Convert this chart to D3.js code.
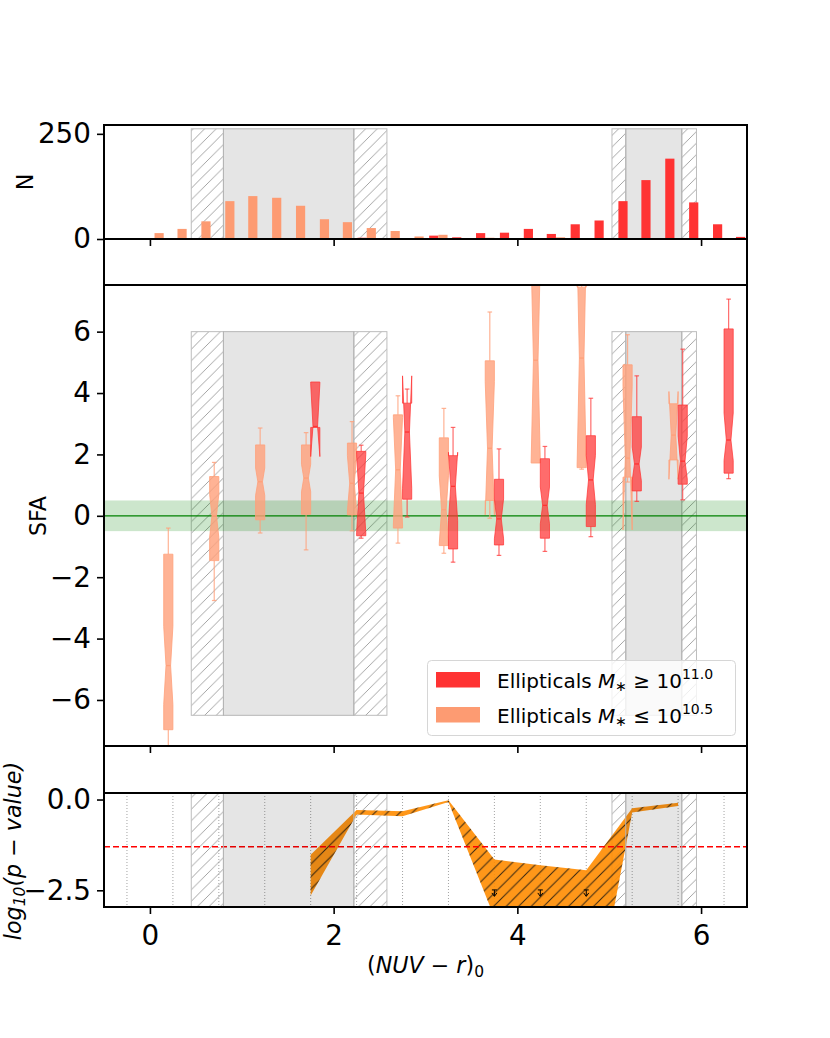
<!DOCTYPE html>
<html>
<head>
<meta charset="utf-8">
<script src="https://cdn.jsdelivr.net/npm/d3@7"></script>
<style>
  body { margin: 0; background: #fff; }
  text { font-family: "DejaVu Sans", sans-serif; }
</style>
</head>
<body>
<div id="chart"></div>
<script>
// ---- data ----
// histogram bins (centre of each pair of bars)
var binCenters = [0.05, 0.30, 0.56, 0.82, 1.07, 1.33, 1.59, 1.85, 2.10, 2.36, 2.62, 2.88, 3.14,
                  3.39, 3.65, 3.91, 4.17, 4.42, 4.68, 4.94, 5.20, 5.45, 5.71, 5.97, 6.23, 6.48];
var nFaint  = [14, 24, 42, 90, 102, 98, 79, 47, 40, 26, 19, 6, 10, 2, 3, 1, 1, 4, 2, 1, 0, 0, 0, 0, 0, 0];
var nBright = [0, 0, 0, 0, 0, 0, 0, 0, 1, 3, 2, 2, 8, 4, 14, 15, 24, 12, 35, 44, 90, 140, 191, 87, 35, 5];

// SFA boxes, one slot per colour bin
var boxPos = [0.25, 0.75, 1.25, 1.75, 2.25, 2.75, 3.25, 3.75, 4.25, 4.75, 5.25, 5.75, 6.25];

var faintQ1   = [-6.97, -1.46, -0.13, 0.05, 0.03, -0.40, -0.97, 0.50, 1.72, 1.57, 1.26, 1.82, null];
var faintMed  = [-4.88, 0.00, 1.11, 1.23, 1.06, 1.50, 0.20, 2.20, 5.07, 5.14, 1.88, 2.63, null];
var faintQ3   = [-1.25, 1.28, 2.31, 2.31, 2.37, 3.29, 2.54, 5.05, 8.60, 7.45, 4.92, 3.65, null];
var faintLo   = [-8.50, -2.76, -0.56, -1.11, -0.49, -0.89, -1.22, -0.08, 1.72, 1.52, 1.10, 1.82, null];
var faintHi   = [-0.40, 1.74, 2.86, 2.71, 3.07, 3.91, 3.50, 6.64, 10.0, 9.50, 5.90, 3.65, null];
var faintCiLo = [-6.15, -0.70, 0.66, 0.78, 0.16, -0.30, -0.90, 0.03, 1.75, 1.60, -0.46, 1.19, null];
var faintCiHi = [-3.60, 0.70, 1.56, 1.68, 1.96, 3.20, 1.30, 4.37, 8.40, 8.70, 4.22, 4.05, null];

var brightQ1   = [null, null, null, 2.88, -0.65, 0.54, -1.08, -0.95, -0.73, -0.35, 0.81, 1.03, 1.39];
var brightMed  = [null, null, null, 2.91, 0.74, 2.73, 0.96, -0.10, 0.34, 1.17, 1.69, 1.78, 2.47];
var brightQ3   = [null, null, null, 4.36, 2.10, 3.67, 1.96, 1.19, 1.86, 2.61, 3.23, 3.61, 6.09];
var brightLo   = [null, null, null, 2.88, -0.73, -0.04, -1.51, -1.29, -1.16, -0.68, 0.47, 0.52, 1.21];
var brightHi   = [null, null, null, 4.36, 2.30, 4.13, 2.88, 2.18, 2.26, 3.83, 4.56, 5.43, 7.06];
var brightCiLo = [null, null, null, 1.93, -0.55, 0.90, -0.15, -0.75, -0.26, 0.37, 1.14, 1.20, 1.80];
var brightCiHi = [null, null, null, 4.30, 2.00, 4.56, 2.07, 0.55, 0.94, 1.97, 2.24, 2.60, 3.35];

// log10(p-value) band
var pX  = [1.75, 2.25, 2.75, 3.25, 3.75, 4.25, 4.75, 5.25, 5.75];
var pHi = [-1.52, -0.29, -0.32, -0.02, -1.65, -1.81, -1.95, -0.24, -0.09];
var pLo = [-2.64, -0.41, -0.46, -0.07, -3.25, -5.00, -7.00, -0.36, -0.18];
var limX = [3.75, 4.25, 4.75];
var limY = [-2.49, -2.49, -2.49];
var gridX = [-0.25, 0.25, 0.75, 1.25, 1.75, 2.25, 2.75, 3.25, 3.75, 4.25, 4.75, 5.25, 5.75, 6.25];
var pCut = Math.log10(0.05);

// colour sequences: [hatch start, shade start, shade end, hatch end]
var zones = [[0.45, 0.80, 2.22, 2.58], [5.03, 5.18, 5.79, 5.95]];

var xTicks = [0, 2, 4, 6];
var nTicks = [0, 250];
var sfaTicks = [-6, -4, -2, 0, 2, 4, 6];
var pTicks = [-2.5, 0.0];

// ---- layout ----
var width = 830, height = 1038;
var left = 104, right = 747;
var colRed = "#ff3333", colSalmon = "#ffa07a", colSalmonBar = "#fd9b72";
var font = "DejaVu Sans";

var svg = d3.select("#chart").append("svg")
    .attr("width", width)
    .attr("height", height);

var x  = d3.scaleLinear().domain([-0.5, 6.5]).range([left, right]);
var yN = d3.scaleLinear().domain([0, 271]).range([239, 125]);
var yS = d3.scaleLinear().domain([-7.5, 7.52]).range([746, 285]);
var yP = d3.scaleLinear().domain([-2.96, 0.18]).range([907, 793]);

var defs = svg.append("defs");

function hatch(id, color, size, sw) {
  defs.append("pattern")
      .attr("id", id)
      .attr("patternUnits", "userSpaceOnUse")
      .attr("width", size).attr("height", size)
    .append("path")
      .attr("d", "M0," + size + "L" + size + ",0M" + (-size / 4) + "," + (size / 4) + "L" + (size / 4) + "," + (-size / 4) +
                 "M" + (size * 3 / 4) + "," + (size * 5 / 4) + "L" + (size * 5 / 4) + "," + (size * 3 / 4))
      .attr("stroke", color)
      .attr("stroke-width", sw);
}
hatch("hatchGray", "#9a9a9a", 11.5, 0.9);
hatch("hatchBlack", "#111", 12.5, 1);

function clip(id, top, bottom) {
  defs.append("clipPath").attr("id", id)
    .append("rect")
      .attr("x", left).attr("y", top)
      .attr("width", right - left).attr("height", bottom - top);
}
clip("clipTop", 125, 239);
clip("clipMid", 285, 746);
clip("clipBot", 793, 907);

// hatched parts of the colour zones
function drawHatch(g, top, bottom) {
  zones.forEach(function(z) {
    [[z[0], z[1]], [z[2], z[3]]].forEach(function(r) {
      g.append("rect")
          .attr("x", x(r[0])).attr("y", top)
          .attr("width", x(r[1]) - x(r[0])).attr("height", bottom - top)
          .attr("fill", "url(#hatchGray)")
          .attr("stroke", "#bdbdbd")
          .attr("stroke-width", 1);
    });
  });
}
// grey middle parts
function drawShade(g, top, bottom) {
  zones.forEach(function(z) {
    g.append("rect")
        .attr("x", x(z[1])).attr("y", top)
        .attr("width", x(z[2]) - x(z[1])).attr("height", bottom - top)
        .attr("fill", "#000")
        .attr("fill-opacity", 0.1)
        .attr("stroke", "#b5b5b5")
        .attr("stroke-width", 1);
  });
}

// ---- top panel: N ----
var gTop = svg.append("g").attr("clip-path", "url(#clipTop)");
drawHatch(gTop, yN(262), yN(0));
drawShade(gTop, yN(262), yN(0));

var barW = 0.1;
gTop.selectAll("rect.bright").data(binCenters).enter()
  .append("rect")
    .attr("class", "bright")
    .attr("x", function(d) { return x(d - barW); })
    .attr("width", x(barW) - x(0))
    .attr("y", function(d, i) { return yN(nBright[i]); })
    .attr("height", function(d, i) { return yN(0) - yN(nBright[i]); })
    .attr("fill", colRed);

gTop.selectAll("rect.faint").data(binCenters).enter()
  .append("rect")
    .attr("class", "faint")
    .attr("x", function(d) { return x(d); })
    .attr("width", x(barW) - x(0))
    .attr("y", function(d, i) { return yN(nFaint[i]); })
    .attr("height", function(d, i) { return yN(0) - yN(nFaint[i]); })
    .attr("fill", colSalmonBar);

// ---- middle panel: SFA ----
var gMid = svg.append("g").attr("clip-path", "url(#clipMid)");
drawHatch(gMid, yS(6), yS(-6.5));
drawShade(gMid, yS(6), yS(-6.5));

gMid.append("rect")
    .attr("x", left).attr("width", right - left)
    .attr("y", yS(0.5)).attr("height", yS(-0.5) - yS(0.5))
    .attr("fill", "green").attr("fill-opacity", 0.2);
gMid.append("line")
    .attr("x1", left).attr("x2", right)
    .attr("y1", yS(0)).attr("y2", yS(0))
    .attr("stroke", "green").attr("stroke-width", 1.2);

var boxW = 0.1;
var line = d3.line();

function drawBoxes(offset, q1, med, q3, lo, hi, cl, ch, color, alpha) {
  var g = gMid.append("g");
  boxPos.forEach(function(p0, i) {
    if (med[i] === null) return;
    var p = p0 + offset;
    var L = p - boxW / 2, R = p + boxW / 2, nL = p - boxW / 4, nR = p + boxW / 4;
    var cw = boxW / 4;

    // whiskers and caps
    [[q3[i], hi[i]], [q1[i], lo[i]]].forEach(function(w) {
      if (w[0] === w[1]) return;
      g.append("line")
          .attr("x1", x(p)).attr("x2", x(p))
          .attr("y1", yS(w[0])).attr("y2", yS(w[1]))
          .attr("stroke", color).attr("stroke-opacity", alpha).attr("stroke-width", 1.2);
      g.append("line")
          .attr("x1", x(p - cw)).attr("x2", x(p + cw))
          .attr("y1", yS(w[1])).attr("y2", yS(w[1]))
          .attr("stroke", color).attr("stroke-opacity", alpha).attr("stroke-width", 1.2);
    });

    // notched box, same vertex order as matplotlib
    var bx = [L, R, R, nR, R, R, L, L, nL, L, L];
    var by = [q1[i], q1[i], cl[i], med[i], ch[i], q3[i], q3[i], ch[i], med[i], cl[i], q1[i]];
    g.append("path")
        .attr("d", line(bx.map(function(v, k) { return [x(v), yS(by[k])]; })) + "Z")
        .attr("fill", color).attr("fill-opacity", alpha)
        .attr("stroke", color).attr("stroke-opacity", alpha).attr("stroke-width", 1);

    g.append("line")
        .attr("x1", x(nL)).attr("x2", x(nR))
        .attr("y1", yS(med[i])).attr("y2", yS(med[i]))
        .attr("stroke", color).attr("stroke-width", 1.3);
  });
}

drawBoxes(-0.05, faintQ1, faintMed, faintQ3, faintLo, faintHi, faintCiLo, faintCiHi, colSalmon, 0.8);
drawBoxes(0.05, brightQ1, brightMed, brightQ3, brightLo, brightHi, brightCiLo, brightCiHi, colRed, 0.72);

// legend
var leg = svg.append("g");
leg.append("rect")
    .attr("x", 427.5).attr("y", 660.5)
    .attr("width", 308).attr("height", 75)
    .attr("rx", 4)
    .attr("fill", "#fff").attr("fill-opacity", 0.8)
    .attr("stroke", "#d6d6d6").attr("stroke-width", 1);

var legItems = [
  { color: colRed, rel: "\u2265", exp: "11.0", y: 672 },
  { color: colSalmonBar, rel: "\u2264", exp: "10.5", y: 707 }
];
legItems.forEach(function(d) {
  leg.append("rect")
      .attr("x", 436).attr("y", d.y)
      .attr("width", 44).attr("height", 15.5)
      .attr("fill", d.color);
  var t = leg.append("text")
      .attr("x", 497).attr("y", d.y + 15.5)
      .attr("font-size", 20)
      .attr("fill", "#000");
  t.append("tspan").text("Ellipticals ");
  t.append("tspan").attr("font-style", "italic").text("M");
  t.append("tspan").attr("font-size", 14).attr("dy", 3).text("\u2217");
  t.append("tspan").attr("dy", -3).text(" " + d.rel + " 10");
  t.append("tspan").attr("font-size", 14).attr("dy", -9).text(d.exp);
});

// ---- bottom panel: p-value ----
var gBot = svg.append("g").attr("clip-path", "url(#clipBot)");
drawHatch(gBot, 793, 907);

gBot.selectAll("line.grid").data(gridX).enter()
  .append("line")
    .attr("class", "grid")
    .attr("x1", function(d) { return x(d); })
    .attr("x2", function(d) { return x(d); })
    .attr("y1", 793).attr("y2", 907)
    .attr("stroke", "#8c8c8c")
    .attr("stroke-width", 0.8)
    .attr("stroke-dasharray", "1,2");

var band = d3.area()
    .x(function(d) { return x(d); })
    .y0(function(d, i) { return yP(pLo[i]); })
    .y1(function(d, i) { return yP(pHi[i]); });

gBot.append("path")
    .attr("d", band(pX))
    .attr("fill", "darkorange")
    .attr("fill-opacity", 0.9);
gBot.append("path")
    .attr("d", band(pX))
    .attr("fill", "url(#hatchBlack)")
    .attr("opacity", 0.85);

gBot.append("line")
    .attr("x1", left).attr("x2", right)
    .attr("y1", yP(pCut)).attr("y2", yP(pCut))
    .attr("stroke", "red")
    .attr("stroke-width", 1.6)
    .attr("stroke-dasharray", "6,3");

// upper-limit markers
limX.forEach(function(lx, i) {
  var cx = x(lx), cy = yP(limY[i]);
  gBot.append("line")
      .attr("x1", cx - 2.5).attr("x2", cx + 2.5)
      .attr("y1", cy).attr("y2", cy)
      .attr("stroke", "#000").attr("stroke-width", 1);
  gBot.append("line")
      .attr("x1", cx).attr("x2", cx)
      .attr("y1", cy).attr("y2", cy + 6)
      .attr("stroke", "#000").attr("stroke-width", 1);
  gBot.append("path")
      .attr("d", "M" + (cx - 2.5) + "," + (cy + 3) + "L" + cx + "," + (cy + 6.5) + "L" + (cx + 2.5) + "," + (cy + 3))
      .attr("fill", "none")
      .attr("stroke", "#000").attr("stroke-width", 1);
});

// the grey zone darkens the band in this panel, so it goes on top
drawShade(gBot, 793, 907);

// ---- frames and axes ----
svg.append("rect")
    .attr("x", left).attr("y", 125)
    .attr("width", right - left).attr("height", 907 - 125)
    .attr("fill", "none")
    .attr("stroke", "#000").attr("stroke-width", 2);

[239, 285, 746, 793].forEach(function(yy) {
  svg.append("line")
      .attr("x1", left).attr("x2", right)
      .attr("y1", yy).attr("y2", yy)
      .attr("stroke", "#000").attr("stroke-width", 2);
});

function yAxis(scale, ticks, fmt) {
  var g = svg.append("g")
      .attr("transform", "translate(" + left + ",0)")
      .call(d3.axisLeft(scale).tickValues(ticks).tickSize(7).tickPadding(6).tickFormat(fmt));
  g.select(".domain").remove();
  g.attr("font-size", 27.8).attr("font-family", font);
  g.selectAll("line").attr("stroke-width", 1.6);
  g.selectAll("text").attr("fill", "#000");
}
yAxis(yN, nTicks, d3.format("d"));
yAxis(yS, sfaTicks, d3.format("d"));
yAxis(yP, pTicks, d3.format(".1f"));

function xAxis(yy, labels) {
  var g = svg.append("g")
      .attr("transform", "translate(0," + yy + ")")
      .call(d3.axisBottom(x).tickValues(xTicks).tickSize(7).tickPadding(11)
            .tickFormat(labels ? d3.format("d") : ""));
  g.select(".domain").remove();
  g.attr("font-size", 27.8).attr("font-family", font);
  g.selectAll("line").attr("stroke-width", 1.6);
  g.selectAll("text").attr("fill", "#000");
}
xAxis(239, false);
xAxis(746, false);
xAxis(907, true);

// axis titles
svg.append("text")
    .attr("transform", "translate(32.7,182) rotate(-90)")
    .attr("text-anchor", "middle")
    .attr("font-size", 22.2)
    .text("N");

svg.append("text")
    .attr("transform", "translate(45.5,516) rotate(-90)")
    .attr("text-anchor", "middle")
    .attr("font-size", 22.2)
    .text("SFA");

var pl = svg.append("text")
    .attr("transform", "translate(21,851) rotate(-90)")
    .attr("text-anchor", "middle")
    .attr("font-size", 22.2)
    .attr("font-style", "italic");
pl.append("tspan").text("log");
pl.append("tspan").attr("font-size", 15.5).attr("dy", 4).text("10");
pl.append("tspan").attr("dy", -4).text("(p \u2212 value)");

var xl = svg.append("text")
    .attr("x", (left + right) / 2)
    .attr("y", 973)
    .attr("text-anchor", "middle")
    .attr("font-size", 22.2);
xl.append("tspan").text("(");
xl.append("tspan").attr("font-style", "italic").text("NUV");
xl.append("tspan").text(" \u2212 ");
xl.append("tspan").attr("font-style", "italic").text("r");
xl.append("tspan").text(")");
xl.append("tspan").attr("font-size", 15.5).attr("dy", 4).text("0");
</script>
</body>
</html>
